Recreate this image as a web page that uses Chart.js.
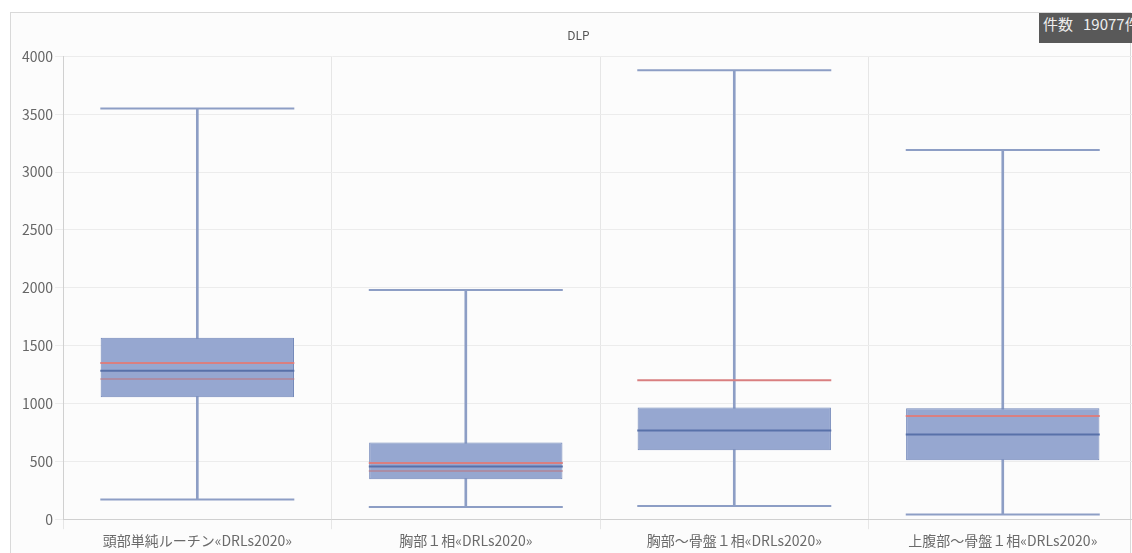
<!DOCTYPE html>
<html lang="ja">
<head>
<meta charset="utf-8">
<title>DLP</title>
<script src="https://cdn.jsdelivr.net/npm/chart.js@4.4.1/dist/chart.umd.min.js"></script>
<style>
  html, body { margin: 0; padding: 0; background: #fff; overflow: hidden; width: 1132px; height: 553px; }
  #panel {
    position: absolute; left: 10px; top: 12px; width: 1121px; height: 560px;
    border: 1px solid #d9d9d9; background: #fcfcfc; box-sizing: border-box;
  }
  #chart { position: absolute; left: 10px; top: 12px; }
  #badge {
    position: absolute; left: 1039px; top: 13px; height: 30px; line-height: 30px;
    padding: 0 4px; background: #595959; color: #eeeeee; white-space: nowrap;
    font: 15px "Noto Sans CJK JP", "Noto Sans", sans-serif;
  }
  #badge span { margin-left: 10px; }
</style>
</head>
<body>
<div id="panel"></div>
<canvas id="chart" width="1136" height="541"></canvas>
<div id="badge">件数<span>19077件</span></div>
<script>
// Examination categories (DLP, mGy·cm)
const categories = [
  '頭部単純ルーチン«DRLs2020»',
  '胸部１相«DRLs2020»',
  '胸部～骨盤１相«DRLs2020»',
  '上腹部～骨盤１相«DRLs2020»'
];

// Box-and-whisker statistics per category
const whiskerLow  = [170, 105, 115, 40];
const quartile1   = [1054, 345, 595, 509];
const medians     = [1284, 456, 767, 732];
const quartile3   = [1568, 663, 966, 960];
const whiskerHigh = [3550, 1980, 3880, 3190];

// Reference lines: DRL value and secondary reference
const drlValues   = [1350, 485, 1200, 893];
const refValues   = [1212, 417, null, null];

// Y axis range
const yMin = 0;
const yMax = 4000;
const yStep = 500;

const FONT = '"Noto Sans CJK JP", "Noto Sans", sans-serif';
const whiskerColor = '#8d9ec5';
const capHalfWidth = 97;

function hLineDataset(values, color, order) {
  return {
    type: 'line',
    data: values,
    showLine: false,
    pointStyle: 'line',
    pointRadius: capHalfWidth,
    pointHoverRadius: capHalfWidth,
    pointBorderColor: color,
    pointBackgroundColor: color,
    pointBorderWidth: 2,
    borderColor: color,
    order: order
  };
}

new Chart(document.getElementById('chart'), {
  type: 'bar',
  data: {
    labels: categories,
    datasets: [
      hLineDataset(medians, '#5871a9', 0),
      hLineDataset(drlValues, '#d97f80', 0),
      hLineDataset(refValues, 'rgba(190,120,130,0.55)', 0),
      hLineDataset(whiskerLow, whiskerColor, 2),
      hLineDataset(whiskerHigh, whiskerColor, 2),
      {
        type: 'bar',
        data: quartile1.map((q, i) => [q, quartile3[i]]),
        backgroundColor: '#96a7d0',
        borderColor: '#7287b9',
        borderWidth: 1,
        borderSkipped: false,
        barPercentage: 0.72,
        categoryPercentage: 1,
        grouped: false,
        order: 1
      },
      {
        type: 'bar',
        data: whiskerLow.map((lo, i) => [lo, whiskerHigh[i]]),
        backgroundColor: whiskerColor,
        borderWidth: 0,
        barThickness: 2,
        grouped: false,
        order: 3
      }
    ]
  },
  options: {
    responsive: false,
    animation: false,
    layout: { autoPadding: false, padding: { left: 10, right: 9, top: 0, bottom: 1 } },
    plugins: {
      legend: { display: false },
      tooltip: { enabled: false },
      title: {
        display: true,
        text: 'DLP',
        color: '#555',
        font: { family: FONT, size: 12, weight: 'normal' },
        padding: { top: 16, bottom: 14 }
      }
    },
    scales: {
      x: {
        offset: true,
        grid: { color: '#e6e6e6', offset: true, tickLength: 10, drawTicks: true },
        border: { color: '#d0d0d0' },
        ticks: { color: '#6a6a6a', font: { family: FONT, size: 14 }, padding: 3, maxRotation: 0 }
      },
      y: {
        min: yMin,
        max: yMax,
        ticks: {
          stepSize: yStep, color: '#666', font: { family: FONT, size: 14 }, padding: 2,
          callback: (v) => String(v)
        },
        grid: { color: '#ececec', tickLength: 8 },
        border: { color: '#d0d0d0' }
      }
    }
  }
});
</script>
</body>
</html>
